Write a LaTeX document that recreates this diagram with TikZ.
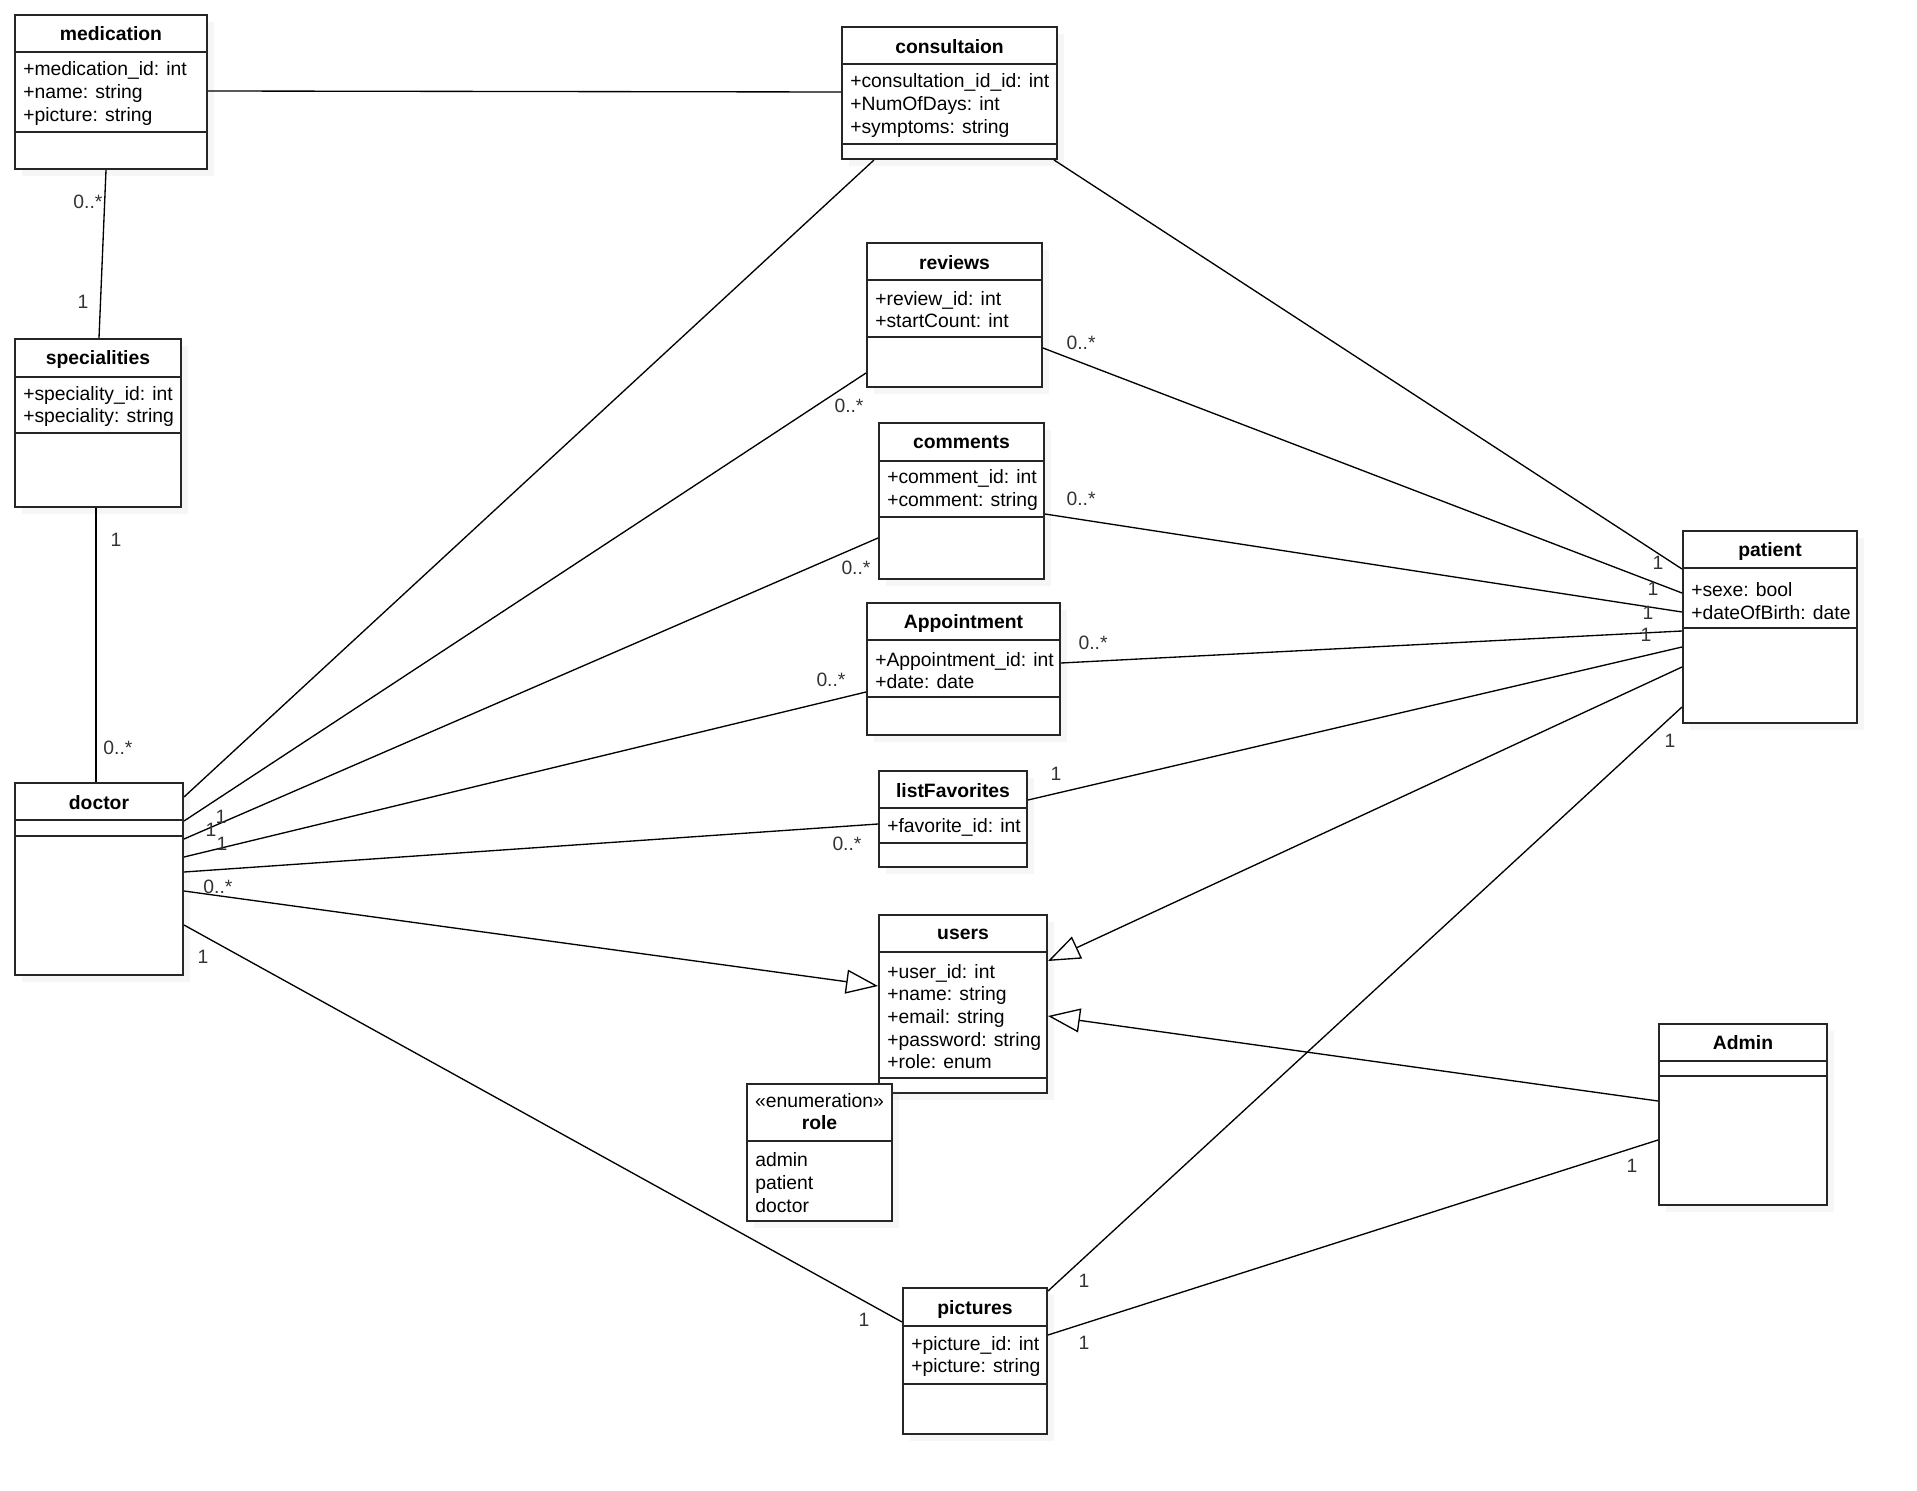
\documentclass[tikz,border=0pt]{standalone}
\usepackage{fontspec}
\setmainfont{Liberation Sans}
\usetikzlibrary{arrows.meta,positioning,fit,calc,shadows}
\newcommand{\umlsize}{\fontsize{14.5}{17}\selectfont}
\tikzset{
  classbox/.style={rectangle,draw=black!85,fill=white,line width=1.5pt,inner sep=0pt,
    drop shadow={shadow xshift=5pt,shadow yshift=-5pt,opacity=0.07}},
  sepline/.style={line width=1.5pt,black!85},
  classname/.style={font=\umlsize\bfseries,inner sep=0pt},
  stereo/.style={font=\umlsize,inner sep=0pt},
  attrs/.style={font=\umlsize,anchor=west,align=left,inner sep=0pt,yshift=-1.5pt},
  assoc/.style={line width=1pt,black},
  inherit/.style={-{Triangle[open,length=24pt,width=18pt]},line width=1pt,black},
  mult/.style={font=\umlsize,inner sep=0pt,text=black!80},
}
\begin{document}
\begin{tikzpicture}[x=0.75pt,y=-0.75pt]
  \useasboundingbox (0,0) rectangle (1917,1491);
  % classes
  \node[classbox,fit={(15,15) (207,169)}] (med) {};
  \draw[sepline] (med.west |- 0,52) -- (med.east |- 0,52);
  \draw[sepline] (med.west |- 0,132) -- (med.east |- 0,132);
  \node[classname] (med-title) at (med.north |- 0,34) {medication};
  \node[attrs] (med-attrs) at (23,91.5) {+medication\_id: int\\+name: string\\+picture: string};

  \node[classbox,fit={(842,27) (1057,159)}] (cons) {};
  \draw[sepline] (cons.west |- 0,64) -- (cons.east |- 0,64);
  \draw[sepline] (cons.west |- 0,144) -- (cons.east |- 0,144);
  \node[classname] (cons-title) at (cons.north |- 0,47) {consultaion};
  \node[attrs] (cons-attrs) at (850,103.5) {+consultation\_id\_id: int\\+NumOfDays: int\\+symptoms: string};

  \node[classbox,fit={(867,243) (1042,387)}] (rev) {};
  \draw[sepline] (rev.west |- 0,280) -- (rev.east |- 0,280);
  \draw[sepline] (rev.west |- 0,337) -- (rev.east |- 0,337);
  \node[classname] (rev-title) at (rev.north |- 0,263) {reviews};
  \node[attrs] (rev-attrs) at (875,307.7) {+review\_id: int\\+startCount: int};

  \node[classbox,fit={(879,423) (1044,579)}] (com) {};
  \draw[sepline] (com.west |- 0,461) -- (com.east |- 0,461);
  \draw[sepline] (com.west |- 0,517) -- (com.east |- 0,517);
  \node[classname] (com-title) at (com.north |- 0,442) {comments};
  \node[attrs] (com-attrs) at (887,488) {+comment\_id: int\\+comment: string};

  \node[classbox,fit={(867,603) (1060,735)}] (app) {};
  \draw[sepline] (app.west |- 0,640) -- (app.east |- 0,640);
  \draw[sepline] (app.west |- 0,697) -- (app.east |- 0,697);
  \node[classname] (app-title) at (app.north |- 0,623) {Appointment};
  \node[attrs] (app-attrs) at (875,668.5) {+Appointment\_id: int\\+date: date};

  \node[classbox,fit={(879,771) (1027,867)}] (fav) {};
  \draw[sepline] (fav.west |- 0,808) -- (fav.east |- 0,808);
  \draw[sepline] (fav.west |- 0,843) -- (fav.east |- 0,843);
  \node[classname] (fav-title) at (fav.north |- 0,791) {listFavorites};
  \node[attrs] (fav-attrs) at (887,825) {+favorite\_id: int};

  \node[classbox,fit={(879,915) (1047,1093)}] (users) {};
  \draw[sepline] (users.west |- 0,952) -- (users.east |- 0,952);
  \draw[sepline] (users.west |- 0,1078) -- (users.east |- 0,1078);
  \node[classname] (users-title) at (users.north |- 0,934) {users};
  \node[attrs] (users-attrs) at (887,1014.5) {+user\_id: int\\+name: string\\+email: string\\+password: string\\+role: enum};

  \node[classbox,fit={(747,1084) (892,1221)}] (role) {};
  \draw[sepline] (role.west |- 0,1141) -- (role.east |- 0,1141);
  \node[stereo] (role-stereo) at (role.north |- 0,1101) {«enumeration»};
  \node[classname] (role-title) at (role.north |- 0,1123) {role};
  \node[attrs] (role-values) at (755,1180.5) {admin\\patient\\doctor};

  \node[classbox,fit={(903,1288) (1047,1434)}] (pic) {};
  \draw[sepline] (pic.west |- 0,1326) -- (pic.east |- 0,1326);
  \draw[sepline] (pic.west |- 0,1384) -- (pic.east |- 0,1384);
  \node[classname] (pic-title) at (pic.north |- 0,1309) {pictures};
  \node[attrs] (pic-attrs) at (911,1354.6) {+picture\_id: int\\+picture: string};

  \node[classbox,fit={(1659,1024) (1827,1205)}] (admin) {};
  \draw[sepline] (admin.west |- 0,1061) -- (admin.east |- 0,1061);
  \draw[sepline] (admin.west |- 0,1076) -- (admin.east |- 0,1076);
  \node[classname] (admin-title) at (admin.north |- 0,1043) {Admin};

  \node[classbox,fit={(1683,531) (1857,723)}] (pat) {};
  \draw[sepline] (pat.west |- 0,568) -- (pat.east |- 0,568);
  \draw[sepline] (pat.west |- 0,628) -- (pat.east |- 0,628);
  \node[classname] (pat-title) at (pat.north |- 0,551) {patient};
  \node[attrs] (pat-attrs) at (1691,599) {+sexe: bool\\+dateOfBirth: date};

  \node[classbox,fit={(15,339) (181,507)}] (spec) {};
  \draw[sepline] (spec.west |- 0,377) -- (spec.east |- 0,377);
  \draw[sepline] (spec.west |- 0,433) -- (spec.east |- 0,433);
  \node[classname] (spec-title) at (spec.north |- 0,359) {specialities};
  \node[attrs] (spec-attrs) at (23,404.5) {+speciality\_id: int\\+speciality: string};

  \node[classbox,fit={(15,783) (183,975)}] (doc) {};
  \draw[sepline] (doc.west |- 0,820) -- (doc.east |- 0,820);
  \draw[sepline] (doc.west |- 0,836) -- (doc.east |- 0,836);
  \node[classname] (doc-title) at (doc.north |- 0,803) {doctor};

  % associations
  \draw[assoc] ($(med.north east)+(0,77)$) -- ($(cons.north west)+(0,66)$);
  \draw[assoc] ($(med.south west)+(92,0)$) -- ($(spec.north west)+(85,0)$);
  \draw[assoc] ($(spec.south west)+(82,0)$) -- ($(doc.north west)+(82,0)$);
  \draw[assoc] ($(doc.north east)+(0,15)$) -- ($(cons.south west)+(33,0)$);
  \draw[assoc] ($(doc.north east)+(0,39)$) -- ($(rev.north west)+(0,131)$);
  \draw[assoc] ($(doc.north east)+(0,57)$) -- ($(com.north west)+(0,116)$);
  \draw[assoc] ($(doc.north east)+(0,75)$) -- ($(app.north west)+(0,90)$);
  \draw[assoc] ($(doc.north east)+(0,90)$) -- ($(fav.north west)+(0,54)$);
  \draw[inherit] ($(doc.north east)+(0,109)$) -- ($(users.north west)+(0,72)$);
  \draw[assoc] ($(doc.north east)+(0,143)$) -- ($(pic.north west)+(0,35)$);
  \draw[assoc] ($(cons.south east)+(-4,0)$) -- ($(pat.north west)+(0,39)$);
  \draw[assoc] ($(rev.north east)+(0,106)$) -- ($(pat.north west)+(0,63)$);
  \draw[assoc] ($(com.north east)+(0,92)$) -- ($(pat.north west)+(0,82)$);
  \draw[assoc] ($(app.north east)+(0,61)$) -- ($(pat.north west)+(0,101)$);
  \draw[assoc] ($(fav.north east)+(0,30)$) -- ($(pat.north west)+(0,117)$);
  \draw[inherit] ($(pat.north west)+(0,137)$) -- ($(users.north east)+(0,47)$);
  \draw[assoc] ($(pat.north west)+(0,177)$) -- ($(pic.north east)+(0,4)$);
  \draw[inherit] ($(admin.north west)+(0,78)$) -- ($(users.north east)+(0,102)$);
  \draw[assoc] ($(admin.north west)+(0,117)$) -- ($(pic.north east)+(0,48)$);

  % multiplicities
  \node[mult] (m-med-a) at (88,202) {0..*};
  \node[mult] (m-med-b) at (83,302) {1};
  \node[mult] (m-spec-a) at (116,540) {1};
  \node[mult] (m-spec-b) at (118,748) {0..*};
  \node[mult] (m-doc-a) at (221,817) {1};
  \node[mult] (m-doc-b) at (211,830) {1};
  \node[mult] (m-doc-c) at (222,844) {1};
  \node[mult] (m-rev-a) at (849,406) {0..*};
  \node[mult] (m-com-a) at (856,568) {0..*};
  \node[mult] (m-app-a) at (831,680) {0..*};
  \node[mult] (m-fav-a) at (847,844) {0..*};
  \node[mult] (m-users-a) at (218,887) {0..*};
  \node[mult] (m-pic-a) at (203,957) {1};
  \node[mult] (m-pic-b) at (864,1320) {1};
  \node[mult] (m-pat-a) at (1658,563) {1};
  \node[mult] (m-rev-b) at (1081,343) {0..*};
  \node[mult] (m-pat-b) at (1653,589) {1};
  \node[mult] (m-com-b) at (1081,499) {0..*};
  \node[mult] (m-pat-c) at (1648,613) {1};
  \node[mult] (m-app-b) at (1093,643) {0..*};
  \node[mult] (m-pat-d) at (1646,635) {1};
  \node[mult] (m-fav-b) at (1056,774) {1};
  \node[mult] (m-pat-e) at (1670,741) {1};
  \node[mult] (m-pic-c) at (1084,1281) {1};
  \node[mult] (m-admin-a) at (1632,1166) {1};
  \node[mult] (m-pic-d) at (1084,1343) {1};
\end{tikzpicture}
\end{document}
